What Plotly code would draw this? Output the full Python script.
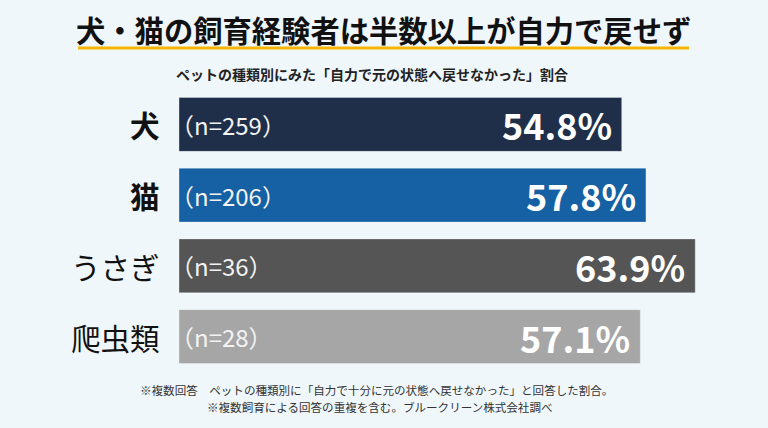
import plotly.graph_objects as go

categories = ["犬", "猫", "うさぎ", "爬虫類"]
values = [54.8, 57.8, 63.9, 57.1]
sample_sizes = ["（n=259）", "（n=206）", "（n=36）", "（n=28）"]
bar_colors = ["#1f2f49", "#1660a4", "#555555", "#a6a6a6"]
bold_labels = [True, True, False, False]

title = "犬・猫の飼育経験者は半数以上が自力で戻せず"
subtitle = "ペットの種類別にみた「自力で元の状態へ戻せなかった」割合"
note1 = "※複数回答　ペットの種類別に「自力で十分に元の状態へ戻せなかった」と回答した割合。"
note2 = "※複数飼育による回答の重複を含む。ブルークリーン株式会社調べ"

W, H = 768, 428
ML, MR, MT, MB = 179, 0, 88.5, 56.3
PW, PH = W - ML - MR, H - MT - MB
FONT = "Noto Sans CJK JP"

def px_x(px):
    return (px - ML) / PW

def px_y(py):
    return (H - MB - py) / PH

ypos = list(range(len(categories)))

fig = go.Figure(go.Bar(
    x=values, y=ypos, orientation="h",
    marker=dict(color=bar_colors, line=dict(color="rgba(255,255,255,0.35)", width=1)),
    width=0.763, hoverinfo="skip",
))

ann = []
for i, (c, v, n, b) in enumerate(zip(categories, values, sample_sizes, bold_labels)):
    ann.append(dict(x=0, y=i, xref="x", yref="y", text=(f"<b>{c}</b>" if b else c),
                    xanchor="right", yanchor="middle", xshift=-17, showarrow=False,
                    font=dict(family=FONT, size=29.5, color="#111111")))
    ann.append(dict(x=0, y=i, xref="x", yref="y", text=n,
                    xanchor="left", yanchor="middle", xshift=-11, showarrow=False,
                    font=dict(family=FONT, size=24, color="#f2f2f2")))
    ann.append(dict(x=v, y=i, xref="x", yref="y", text=f"<b>{v:.1f}%</b>",
                    xanchor="right", yanchor="middle", xshift=-8, showarrow=False,
                    font=dict(family=FONT, size=36, color="#ffffff")))

ann.append(dict(x=px_x(383.5), y=px_y(28.5), xref="paper", yref="paper", text=f"<b>{title}</b>",
                xanchor="center", yanchor="middle", showarrow=False,
                font=dict(family=FONT, size=29.3, color="#111111")))
ann.append(dict(x=px_x(371.5), y=px_y(73), xref="paper", yref="paper", text=f"<b>{subtitle}</b>",
                xanchor="center", yanchor="middle", showarrow=False,
                font=dict(family=FONT, size=14, color="#222222")))
ann.append(dict(x=px_x(376), y=px_y(390), xref="paper", yref="paper", text=note1,
                xanchor="center", yanchor="middle", showarrow=False,
                font=dict(family=FONT, size=11.55, color="#333333")))
ann.append(dict(x=px_x(379.5), y=px_y(406.5), xref="paper", yref="paper", text=note2,
                xanchor="center", yanchor="middle", showarrow=False,
                font=dict(family=FONT, size=11.55, color="#333333")))

fig.update_layout(
    width=W, height=H,
    margin=dict(l=ML, r=MR, t=MT, b=MB, pad=0),
    paper_bgcolor="#eff7fb", plot_bgcolor="#eff7fb",
    showlegend=False,
    xaxis=dict(range=[0, PW / 8.079], visible=False, fixedrange=True),
    yaxis=dict(range=[3.5, -0.5], visible=False, fixedrange=True),
    annotations=ann,
    shapes=[dict(type="line", xref="paper", yref="paper",
                 x0=px_x(78), x1=px_x(689), y0=px_y(47.5), y1=px_y(47.5),
                 line=dict(color="#f7b500", width=3))],
)

fig.write_html("out.html", config={"displayModeBar": False},
               post_script="document.body.style.margin='0';document.body.style.background='#eff7fb';")
